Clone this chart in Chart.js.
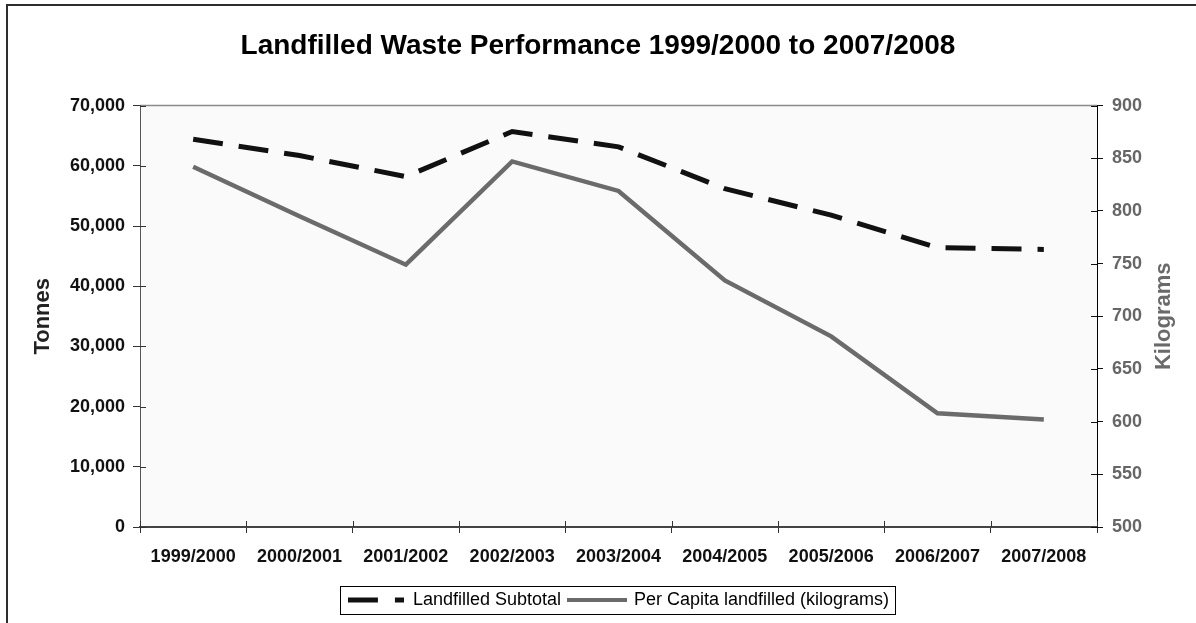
<!DOCTYPE html>
<html>
<head>
<meta charset="utf-8">
<script src="https://cdn.jsdelivr.net/npm/chart.js@4.4.1/dist/chart.umd.min.js"></script>
<style>
  html, body { margin: 0; padding: 0; background: #ffffff; overflow: hidden; }
  #wrap { position: relative; width: 1196px; height: 623px; }
  canvas { display: block; }
</style>
</head>
<body>
<div id="wrap"><canvas id="c" width="1196" height="623"></canvas></div>
<script>
// ---- data ----
const categories = ['1999/2000', '2000/2001', '2001/2002', '2002/2003', '2003/2004',
                    '2004/2005', '2005/2006', '2006/2007', '2007/2008'];
const landfilledSubtotalTonnes = [64400, 61700, 58200, 65700, 63150, 56200, 51800, 46400, 46100];
const perCapitaKilograms = [842, 795, 749, 847, 819, 734, 681, 608, 602];
const seriesNames = ['Landfilled Subtotal', 'Per Capita landfilled (kilograms)'];
const chartTitle = 'Landfilled Waste Performance 1999/2000 to 2007/2008';
const leftAxisTitle = 'Tonnes';
const rightAxisTitle = 'Kilograms';
const tonnesRange = [0, 70000, 10000];
const kilogramsRange = [500, 900, 50];

const FONT = "'Liberation Sans', Arial, sans-serif";

// legend symbols (Excel style)
function makeDashSymbol() {
  const c = document.createElement('canvas');
  c.width = 56; c.height = 6;
  const g = c.getContext('2d');
  g.fillStyle = '#111111';
  g.fillRect(0, 0.5, 30, 5);
  g.fillRect(47, 0.5, 9, 5);
  return c;
}
function makeSolidSymbol() {
  const c = document.createElement('canvas');
  c.width = 60; c.height = 6;
  const g = c.getContext('2d');
  g.fillStyle = '#6b6b6b';
  g.fillRect(0, 1, 60, 4);
  return c;
}

const decorPlugin = {
  id: 'decor',
  beforeDraw(chart) {
    const { ctx, chartArea: a } = chart;
    ctx.save();
    ctx.strokeStyle = '#2e2e2e';
    ctx.lineWidth = 2;
    ctx.strokeRect(7, 5, 1400, 800);
    ctx.fillStyle = '#fafafa';
    ctx.fillRect(a.left, a.top, a.right - a.left, a.bottom - a.top);
    ctx.strokeStyle = '#8a8a8a';
    ctx.lineWidth = 1.5;
    ctx.beginPath();
    ctx.moveTo(a.left, a.top);
    ctx.lineTo(a.right, a.top);
    ctx.stroke();
    ctx.restore();
  },
  afterDraw(chart) {
    const { ctx, chartArea: a, scales } = chart;
    ctx.save();
    ctx.lineWidth = 1;
    ctx.strokeStyle = '#333';
    scales.y.ticks.forEach(t => {
      const py = Math.round(scales.y.getPixelForValue(t.value)) + 0.5;
      ctx.beginPath(); ctx.moveTo(a.left, py); ctx.lineTo(a.left + 6, py); ctx.stroke();
    });
    ctx.strokeStyle = '#111';
    scales.y1.ticks.forEach(t => {
      const py = Math.round(scales.y1.getPixelForValue(t.value)) + 0.5;
      ctx.beginPath(); ctx.moveTo(a.right - 6, py); ctx.lineTo(a.right, py); ctx.stroke();
    });
    ctx.strokeStyle = '#333';
    for (let i = 0; i <= categories.length; i++) {
      const px = Math.round(scales.x.getPixelForValue(i - 0.5)) + 0.5;
      ctx.beginPath(); ctx.moveTo(px, a.bottom - 6); ctx.lineTo(px, a.bottom); ctx.stroke();
    }
    ctx.translate(a.right + 67, (a.top + a.bottom) / 2);
    ctx.rotate(-Math.PI / 2);
    ctx.fillStyle = '#6a6a6a';
    ctx.font = 'bold 22px ' + FONT;
    ctx.textAlign = 'center';
    ctx.textBaseline = 'middle';
    ctx.fillText(rightAxisTitle, 0, 0);
    ctx.restore();
    const hb = chart.legend.legendHitBoxes;
    if (hb && hb.length) {
      const l = Math.min(...hb.map(h => h.left)) - 8;
      const r = Math.max(...hb.map(h => h.left + h.width)) + 6;
      const t = Math.min(...hb.map(h => h.top)) - 5;
      const b = Math.max(...hb.map(h => h.top + h.height)) + 5;
      ctx.save();
      ctx.strokeStyle = '#000';
      ctx.lineWidth = 1;
      ctx.strokeRect(Math.round(l) + 0.5, Math.round(t) + 0.5, Math.round(r - l), Math.round(b - t));
      ctx.restore();
    }
  }
};

new Chart(document.getElementById('c'), {
  type: 'line',
  data: {
    labels: categories,
    datasets: [
      {
        label: seriesNames[0],
        data: landfilledSubtotalTonnes,
        yAxisID: 'y',
        borderColor: '#111111',
        backgroundColor: '#111111',
        borderWidth: 5,
        borderDash: [30, 16],
        borderCapStyle: 'butt',
        pointRadius: 0,
        pointStyle: makeDashSymbol(),
        tension: 0,
        fill: false
      },
      {
        label: seriesNames[1],
        data: perCapitaKilograms,
        yAxisID: 'y1',
        borderColor: '#6b6b6b',
        backgroundColor: '#6b6b6b',
        borderWidth: 4.5,
        pointRadius: 0,
        pointStyle: makeSolidSymbol(),
        tension: 0,
        fill: false
      }
    ]
  },
  options: {
    responsive: false,
    animation: false,
    devicePixelRatio: 1,
    layout: { padding: { left: 10, right: 10, top: 0, bottom: 4 } },
    plugins: {
      title: {
        display: true,
        text: chartTitle,
        color: '#000',
        font: { family: FONT, size: 28, weight: 'bold' },
        padding: { top: 29, bottom: 43 }
      },
      legend: {
        position: 'bottom',
        fullSize: false,
        labels: {
          usePointStyle: true,
          pointStyleWidth: 56,
          boxWidth: 56,
          color: '#000',
          font: { family: FONT, size: 18 },
          padding: 8
        }
      },
      tooltip: { enabled: false }
    },
    scales: {
      x: {
        offset: true,
        grid: { offset: true, drawOnChartArea: false, drawTicks: true, tickLength: 6, color: '#333' },
        border: { color: '#444', width: 2 },
        ticks: {
          color: '#111', font: { family: FONT, size: 18, weight: 'bold' },
          padding: 13, maxRotation: 0, autoSkip: false
        },
        afterFit(s) { s.height = 56; }
      },
      y: {
        position: 'left',
        min: tonnesRange[0], max: tonnesRange[1],
        grid: { drawOnChartArea: false, tickLength: 7, color: '#333' },
        border: { color: '#555', width: 1 },
        ticks: {
          stepSize: tonnesRange[2],
          color: '#111', font: { family: FONT, size: 18, weight: 'bold' },
          padding: 8,
          callback: v => v.toLocaleString('en-US')
        },
        title: {
          display: true, text: leftAxisTitle, color: '#222',
          font: { family: FONT, size: 22, weight: 'bold' },
          padding: { top: 20, bottom: 0 }
        },
        afterFit(s) { s.width = 130; }
      },
      y1: {
        position: 'right',
        min: kilogramsRange[0], max: kilogramsRange[1],
        grid: { drawOnChartArea: false, tickLength: 6, color: '#111' },
        border: { color: '#000', width: 1 },
        ticks: {
          stepSize: kilogramsRange[2],
          color: '#666', font: { family: FONT, size: 18, weight: 'bold' },
          padding: 9
        },
        afterFit(s) { s.width = 89; }
      }
    }
  },
  plugins: [decorPlugin]
});
</script>
</body>
</html>
